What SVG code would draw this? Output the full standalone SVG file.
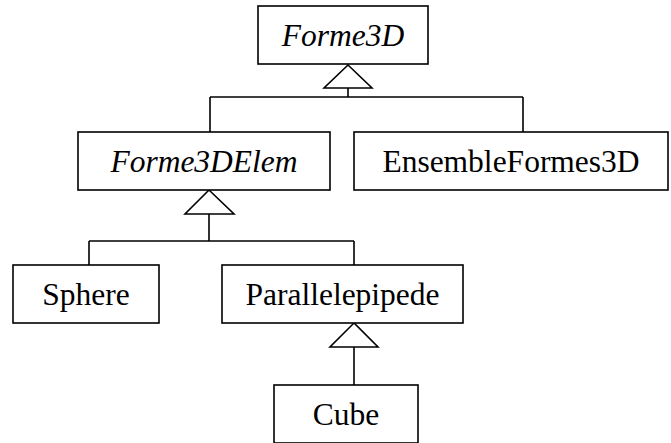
<svg xmlns="http://www.w3.org/2000/svg" width="671" height="443" viewBox="0 0 671 443">
<style>
.box{fill:#fff;stroke:#000;stroke-width:1.6}
text{font-family:'Liberation Serif','DejaVu Serif',serif;font-size:31.5px;fill:#000;text-anchor:middle}
.it{font-style:italic}
.con{fill:none;stroke:#000;stroke-width:1.6}
.tri{fill:#fff;stroke:#000;stroke-width:1.6;stroke-linejoin:miter}
</style>
<rect width="671" height="443" fill="#fff"/>
<g id="connectors">
<path class="con" d="M348,88 V97 M210,97 H523 M210,97 V132 M523,97 V132"/>
<polygon class="tri" points="348,65 324,88 372,88"/>
<path class="con" d="M209,214 V241 M89,241 H354 M89,241 V265 M354,241 V265"/>
<polygon class="tri" points="209,190 185,214 234,214"/>
<path class="con" d="M354,347 V385"/>
<polygon class="tri" points="354,323 330,347 378,347"/>
</g>
<g id="Forme3D">
<rect class="box" x="258" y="6" width="170" height="58"/>
<text class="it" x="343" y="46" font-family="Liberation Serif, serif">Forme3D</text>
</g>
<g id="Forme3DElem">
<rect class="box" x="78" y="132" width="252" height="58"/>
<text class="it" x="204" y="172" font-family="Liberation Serif, serif">Forme3DElem</text>
</g>
<g id="EnsembleFormes3D">
<rect class="box" x="354" y="132" width="314" height="58"/>
<text x="511" y="172" font-family="Liberation Serif, serif">EnsembleFormes3D</text>
</g>
<g id="Sphere">
<rect class="box" x="13" y="265" width="146" height="58"/>
<text x="86" y="305" font-family="Liberation Serif, serif">Sphere</text>
</g>
<g id="Parallelepipede">
<rect class="box" x="222" y="265" width="241" height="58"/>
<text x="342.5" y="305" font-family="Liberation Serif, serif">Parallelepipede</text>
</g>
<g id="Cube">
<rect class="box" x="274" y="385" width="144" height="58"/>
<text x="346" y="425" font-family="Liberation Serif, serif">Cube</text>
</g>
</svg>
